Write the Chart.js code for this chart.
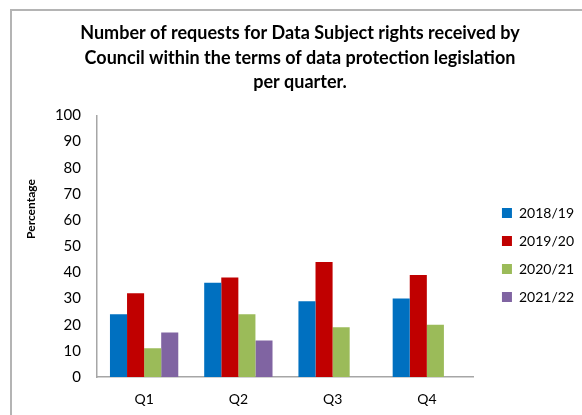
<!DOCTYPE html>
<html>
<head>
<meta charset="utf-8">
<script src="https://cdn.jsdelivr.net/npm/chart.js@4/dist/chart.umd.min.js"></script>
<style>
  html, body { margin: 0; padding: 0; background: #fff; }
  body { width: 582px; height: 415px; position: relative; overflow: hidden; }
  #marco {
    position: absolute; left: 10px; top: 9px; width: 600px; height: 440px;
    border-left: 2px solid #b4b4b4; border-top: 2px solid #b4b4b4;
  }
  #lienzo { position: absolute; left: 12px; top: 11px; width: 570px; height: 404px; }
</style>
</head>
<body>
<div id="marco"></div>
<div id="lienzo"><canvas id="grafico" width="570" height="404"></canvas></div>
<script>
// Datos del gráfico
const trimestres = ["Q1", "Q2", "Q3", "Q4"];
const periodos = ["2018/19", "2019/20", "2020/21", "2021/22"];
const valores1819 = [24, 36, 29, 30];
const valores1920 = [32, 38, 44, 39];
const valores2021 = [11, 24, 19, 20];
const valores2122 = [17, 14, null, null];
const colores = ["#0070C0", "#C00000", "#9BBB59", "#8064A2"];

const fuente = "Lato, 'Liberation Sans', sans-serif";

// Título del eje Y dibujado a mano (no va centrado en el eje)
const tituloEjeY = {
  id: "tituloEjeY",
  afterDraw(chart) {
    const ctx = chart.ctx;
    ctx.save();
    ctx.translate(19, 198);
    ctx.rotate(-Math.PI / 2);
    ctx.font = "bold 12px " + fuente;
    ctx.fillStyle = "#000";
    ctx.textAlign = "center";
    ctx.textBaseline = "middle";
    ctx.fillText("Percentage", 0, 0);
    ctx.restore();
  }
};

// Mover la leyenda un poco (más a la derecha y más abajo)
const moverLeyenda = {
  id: "moverLeyenda",
  afterLayout(chart) {
    const l = chart.legend;
    l.left += 14; l.right += 14;
    l.top += 37; l.bottom += 37;
  }
};

const series = [valores1819, valores1920, valores2021, valores2122];

new Chart(document.getElementById("grafico"), {
  type: "bar",
  data: {
    labels: trimestres,
    datasets: periodos.map((p, i) => ({
      label: p,
      data: series[i],
      backgroundColor: colores[i],
      borderWidth: 0,
      barPercentage: 1,
      categoryPercentage: 0.725
    }))
  },
  options: {
    responsive: false,
    animation: false,
    layout: { padding: { left: 18, right: 12, bottom: 0, top: 10 } },
    plugins: {
      tooltip: { enabled: false },
      title: {
        display: true,
        text: [
          "Number of requests for Data Subject rights received by",
          "Council within the terms of data protection legislation",
          "per quarter."
        ],
        color: "#000",
        font: { family: fuente, size: 18, weight: "bold", lineHeight: 1.36 },
        padding: { top: 0, bottom: 21 }
      },
      legend: {
        position: "right",
        labels: {
          boxWidth: 10,
          boxHeight: 10,
          padding: 14,
          color: "#000",
          font: { family: fuente, size: 14 }
        }
      }
    },
    scales: {
      x: {
        grid: { display: false, drawTicks: false },
        border: { color: "#a6a6a6", width: 1.5 },
        ticks: { color: "#000", padding: 14, font: { family: fuente, size: 14 } },
        afterFit(scale) { scale.height = 38; }
      },
      y: {
        min: 0,
        max: 100,
        grid: { display: false, drawTicks: false },
        border: { color: "#a6a6a6", width: 1.5 },
        ticks: { stepSize: 10, color: "#000", padding: 16, font: { family: fuente, size: 15 } },
        afterFit(scale) { scale.width = 67; }
      }
    }
  },
  plugins: [tituloEjeY, moverLeyenda]
});
</script>
</body>
</html>
